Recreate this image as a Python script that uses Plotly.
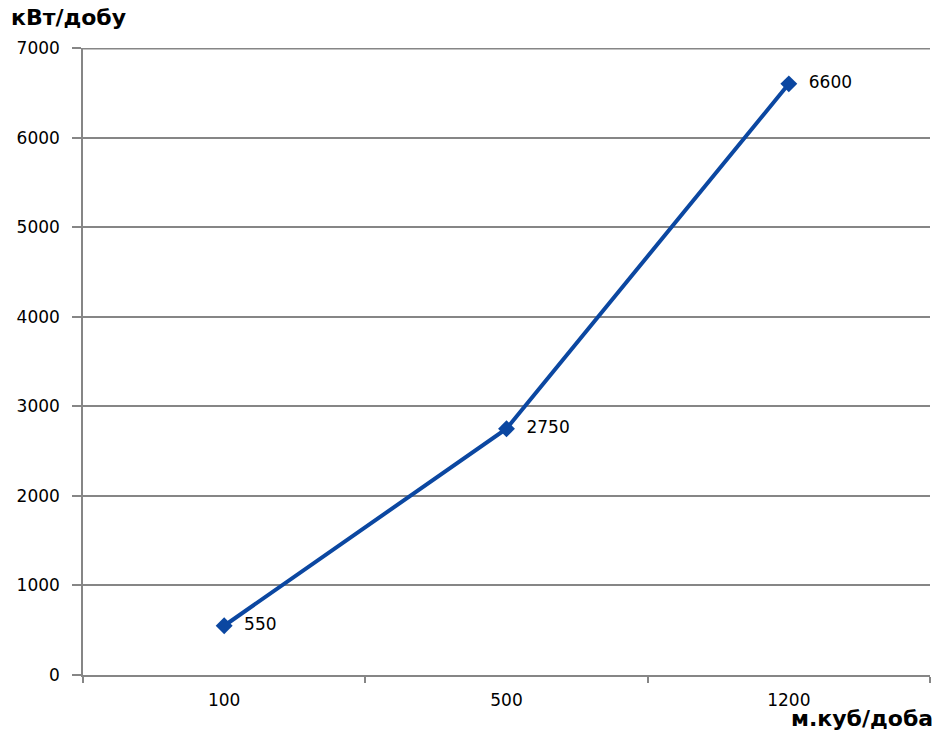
import plotly.graph_objects as go

categories = ["100", "500", "1200"]
values = [550, 2750, 6600]
y_ticks = [0, 1000, 2000, 3000, 4000, 5000, 6000, 7000]

line_color = "#0b47a1"
grid_color = "#868686"
font_family = "DejaVu Sans, Verdana, sans-serif"

fig = go.Figure()
fig.add_trace(go.Scatter(
    x=categories,
    y=values,
    mode="lines+markers+text",
    line=dict(color=line_color, width=4),
    marker=dict(symbol="diamond", size=13, color=line_color),
    text=["  " + str(v) for v in values],
    textposition="middle right",
    textfont=dict(family=font_family, size=17, color="#000000"),
    cliponaxis=False,
    showlegend=False,
))

fig.update_layout(
    width=939, height=731,
    margin=dict(l=83, r=9, t=48, b=56),
    paper_bgcolor="white",
    plot_bgcolor="white",
    font=dict(family=font_family, size=17, color="#000000"),
)

fig.update_xaxes(
    type="category",
    range=[-0.5, 2.5],
    tickson="boundaries",
    ticks="outside",
    ticklen=6,
    tickcolor=grid_color,
    tickwidth=1.5,
    showline=True,
    linecolor=grid_color,
    linewidth=1.5,
    showgrid=False,
    tickfont=dict(family=font_family, size=17),
    ticklabelstandoff=9,
)

fig.update_yaxes(
    range=[0, y_ticks[-1]],
    tickvals=y_ticks,
    ticks="outside",
    ticklen=9,
    tickcolor=grid_color,
    tickwidth=1.5,
    showline=True,
    linecolor=grid_color,
    linewidth=1.5,
    showgrid=True,
    gridcolor=grid_color,
    gridwidth=1.5,
    zeroline=False,
    tickfont=dict(family=font_family, size=17),
    ticklabelstandoff=9,
)

# top gridline at the upper edge of the range
fig.add_shape(
    type="line", xref="paper", yref="y",
    x0=0, x1=1, y0=y_ticks[-1], y1=y_ticks[-1],
    line=dict(color=grid_color, width=3),
)

fig.add_annotation(
    text="<b>кВт/добу</b>", xref="paper", yref="paper",
    x=-74/847, y=1 + 30/627, xanchor="left", yanchor="middle",
    showarrow=False, font=dict(family=font_family, size=22, color="#000000"),
)
fig.add_annotation(
    text="<b>м.куб/доба</b>", xref="paper", yref="paper",
    x=1 + 5/847, y=-43/627, xanchor="right", yanchor="middle",
    showarrow=False, font=dict(family=font_family, size=22, color="#000000"),
)

fig.write_html("out.html")
